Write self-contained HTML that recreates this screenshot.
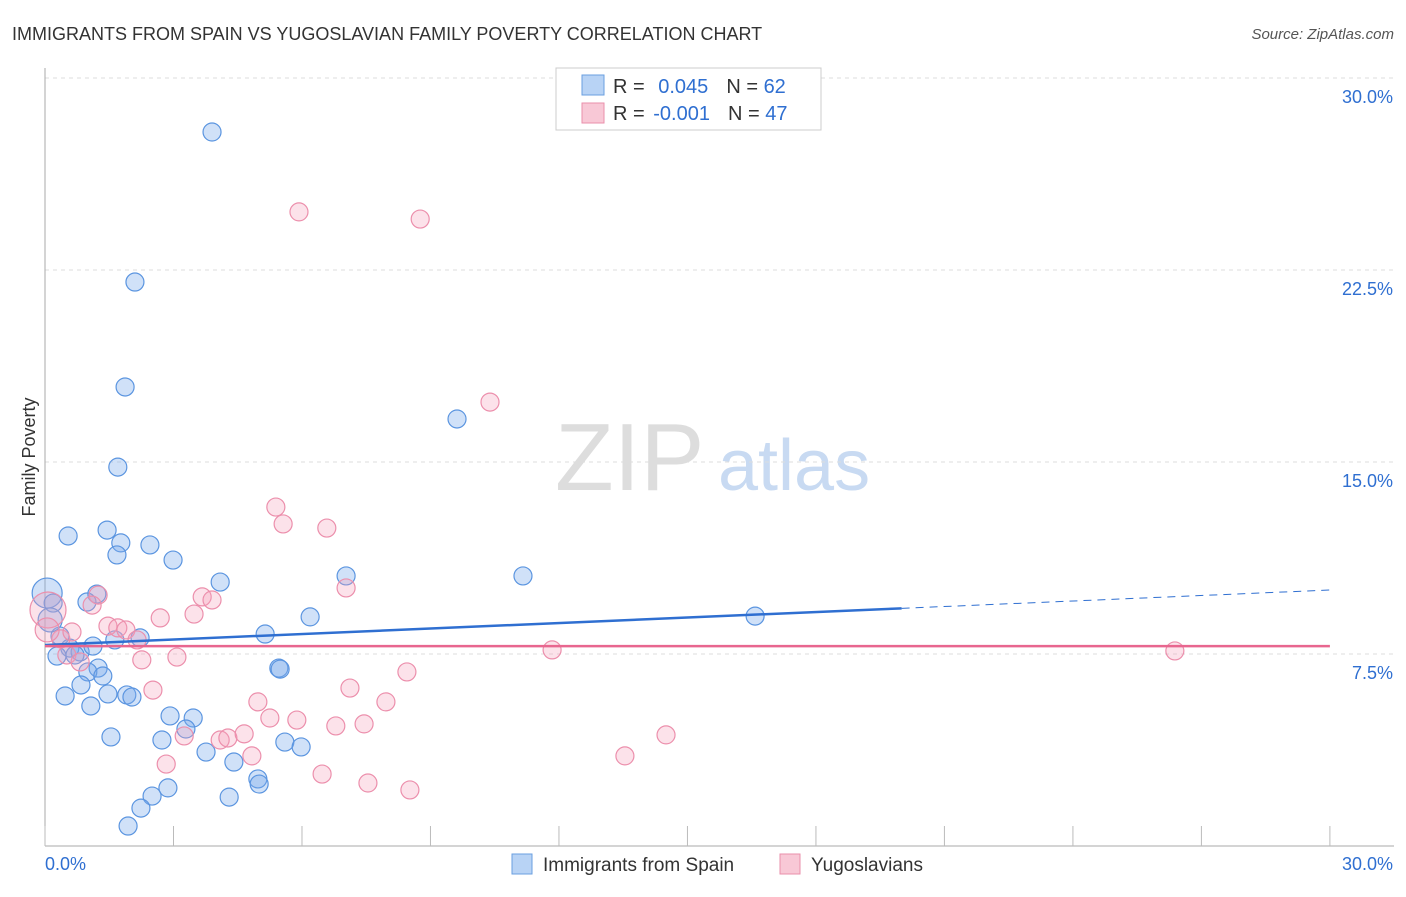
<!DOCTYPE html>
<html><head><meta charset="utf-8"><style>
body{margin:0;background:#fff;font-family:"Liberation Sans",sans-serif}
svg text{font-family:"Liberation Sans",sans-serif}
</style></head><body>
<svg id="c" width="1406" height="892">
<text x="12" y="40" font-size="18" fill="#333">IMMIGRANTS FROM SPAIN VS YUGOSLAVIAN FAMILY POVERTY CORRELATION CHART</text>
<text x="1394" y="39" font-size="15" fill="#555" font-style="italic" text-anchor="end">Source: ZipAtlas.com</text>
<text x="35" y="457" font-size="18" fill="#333" transform="rotate(-90 35 457)" text-anchor="middle">Family Poverty</text>
<text x="555" y="490" font-size="96" fill="#ddd" font-family="Liberation Serif">ZIP</text>
<text x="718" y="490" font-size="72" fill="#c8daf2">atlas</text>
<g id="grid"></g><g id="pts"></g><g id="trend"></g>
<g>
<rect x="556" y="68" width="265" height="62" fill="#fff" stroke="#ccc"/>
<rect x="582" y="75" width="22" height="20" fill="#b8d3f5" stroke="#6a9fe0"/>
<rect x="582" y="103" width="22" height="20" fill="#f8c8d6" stroke="#ea8fab"/>
<text x="613" y="93" font-size="20" fill="#333">R = <tspan fill="#2f6fd1" dx="8">0.045</tspan><tspan fill="#333" dx="18">N = </tspan><tspan fill="#2f6fd1">62</tspan></text>
<text x="613" y="120" font-size="20" fill="#333">R = <tspan fill="#2f6fd1" dx="3">-0.001</tspan><tspan fill="#333" dx="18">N = </tspan><tspan fill="#2f6fd1">47</tspan></text>
</g>
<g>
<rect x="512" y="854" width="20" height="20" fill="#b8d3f5" stroke="#6a9fe0"/>
<text x="543" y="871" font-size="19" fill="#333">Immigrants from Spain</text>
<rect x="780" y="854" width="20" height="20" fill="#f8c8d6" stroke="#ea8fab"/>
<text x="811" y="871" font-size="19" fill="#333">Yugoslavians</text>
</g>
</svg>
<script>
const yTicks=[7.5,15,22.5,30];
const yTickLabels=["7.5%","15.0%","22.5%","30.0%"];
const xTicks=[0,3,6,9,12,15,18,21,24,27,30];
const blueX=[3.90,2.10,1.87,1.70,9.62,0.54,1.45,1.77,2.45,1.68,2.99,4.09,7.03,11.16,16.58,0.05,0.19,1.21,0.98,6.19,5.14,2.22,1.63,0.35,0.58,0.82,1.12,0.28,0.70,1.24,1.00,1.35,5.46,5.49,0.84,1.47,1.91,2.03,0.47,1.07,2.92,3.46,3.29,1.54,2.73,3.76,5.60,5.98,4.41,4.97,5.00,2.87,2.50,4.30,2.24,1.94,0.12];
const blueY=[27.89,22.03,17.93,14.80,16.68,12.11,12.34,11.84,11.76,11.37,11.17,10.31,10.55,10.55,8.98,9.88,9.49,9.84,9.53,8.95,8.28,8.13,8.05,8.20,7.73,7.58,7.81,7.42,7.46,6.95,6.80,6.64,6.95,6.91,6.29,5.94,5.90,5.82,5.86,5.47,5.08,5.00,4.57,4.26,4.14,3.67,4.06,3.87,3.28,2.62,2.42,2.27,1.95,1.91,1.48,0.78,8.83];
const blueR=[9,9,9,9,9,9,9,9,9,9,9,9,9,9,9,15,9,9,9,9,9,9,9,9,9,9,9,9,9,9,9,9,9,9,9,9,9,9,9,9,9,9,9,9,9,9,9,9,9,9,9,9,9,9,9,9,12];
const pinkX=[5.93,8.76,10.39,5.39,5.56,6.58,7.03,3.67,3.90,1.24,1.10,2.69,3.48,1.47,1.70,1.89,2.15,0.37,0.63,11.84,26.38,2.26,3.08,0.51,8.45,2.52,7.12,4.97,7.96,5.25,5.88,6.79,7.45,3.25,4.09,4.27,4.65,4.83,2.83,13.54,14.50,6.47,7.54,8.52,0.82,0.07,0.05];
const pinkY=[24.77,24.49,17.34,13.24,12.58,12.42,10.08,9.73,9.61,9.80,9.41,8.91,9.06,8.59,8.52,8.44,8.05,8.09,8.36,7.66,7.62,7.27,7.38,7.46,6.80,6.09,6.17,5.63,5.63,5.00,4.92,4.69,4.77,4.30,4.14,4.22,4.38,3.52,3.20,3.52,4.34,2.81,2.46,2.19,7.19,9.22,8.44];
const pinkR=[9,9,9,9,9,9,9,9,9,9,9,9,9,9,9,9,9,9,9,9,9,9,9,9,9,9,9,9,9,9,9,9,9,9,9,9,9,9,9,9,9,9,9,9,9,18,12];
const blueTrend=[7.85,10.0], pinkTrend=[7.81,7.81];
const NS="http://www.w3.org/2000/svg";
const X=v=>45+v*42.83, Y=v=>846-v*25.6;
function mk(t,a,p){const e=document.createElementNS(NS,t);for(const k in a)e.setAttribute(k,a[k]);p.appendChild(e);return e;}
const g=document.getElementById('grid');
yTicks.forEach((t,i)=>{
 const l=mk('line',{x1:45,x2:1394,y1:Y(t),y2:Y(t),stroke:'#ddd','stroke-dasharray':'4,4'},g);
 
 
 const tx=mk('text',{x:1393,y:Y(t)+25,'font-size':18,fill:'#2f6fd1','text-anchor':'end'},g);tx.textContent=yTickLabels[i];
 
 
});
mk('line',{x1:45,x2:45,y1:68,y2:846,stroke:'#aaa'},g);
mk('line',{x1:45,x2:1394,y1:846,y2:846,stroke:'#aaa'},g);
xTicks.forEach(t=>{const l=mk('line',{x1:X(t),x2:X(t),y1:826,y2:846,stroke:'#bbb'},g);
 
 });
let a=mk('text',{x:45,y:870,'font-size':18,fill:'#2f6fd1'},g);a.textContent='0.0%';


a=mk('text',{x:1393,y:870,'font-size':18,fill:'#2f6fd1','text-anchor':'end'},g);a.textContent='30.0%';


const p=document.getElementById('pts');
blueX.forEach((x,i)=>{const c=mk('circle',{cx:X(x),cy:Y(blueY[i]),r:blueR[i],fill:'rgba(120,170,235,0.35)',stroke:'#5b95e0','stroke-width':1.2},p);
 
 });
pinkX.forEach((x,i)=>{const c=mk('circle',{cx:X(x),cy:Y(pinkY[i]),r:pinkR[i],fill:'rgba(245,160,185,0.3)',stroke:'#ec8fac','stroke-width':1.2},p);
 
 });
const tr=document.getElementById('trend');
const by=x=>blueTrend[0]+(blueTrend[1]-blueTrend[0])*x/30;
let l=mk('line',{x1:X(0),y1:Y(by(0)),x2:X(20),y2:Y(by(20)),stroke:'#2f6fd1','stroke-width':2.5},tr);


l=mk('line',{x1:X(20),y1:Y(by(20)),x2:X(30),y2:Y(by(30)),stroke:'#2f6fd1','stroke-width':1,'stroke-dasharray':'8,6'},tr);


l=mk('line',{x1:X(0),y1:Y(pinkTrend[0]),x2:X(30),y2:Y(pinkTrend[1]),stroke:'#e8668f','stroke-width':2.5},tr);


</script>
</body></html>
